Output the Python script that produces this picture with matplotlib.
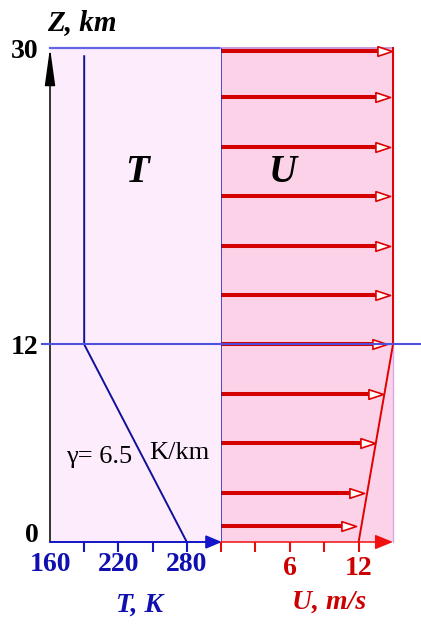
import numpy as np
import matplotlib.pyplot as plt
from matplotlib.lines import Line2D
from matplotlib.path import Path
from matplotlib.transforms import blended_transform_factory

plt.rcParams['font.family'] = ['Liberation Serif', 'DejaVu Serif']

# height levels, km
z_top = 30
z_trop = 12

# temperature profile (K) and height (km)
T_prof = [280, 190, 190]
zT_prof = [0, 12, 29.5]

# wind profile (m/s) and height (km)
U_prof = [12, 15, 15]
zU_prof = [0, 12, 30]

# wind vectors drawn at these heights
z_arrows = [1, 3, 6, 9, 12, 15, 18, 21, 24, 27, 29.8]
u_arrows = [11.8, 12.5, 13.4, 14.1, 14.5, 14.7, 14.7, 14.7, 14.7, 14.7, 14.9]

T_ticks = [160, 190, 220, 250, 280]
T_ticklabels = ['160', '', '220', '', '280']
U_ticks = [0, 3, 6, 9, 12]
U_ticklabels = ['', '', '6', '', '12']
z_ticks = [0, 12, 30]

W, H = 421, 624
fig = plt.figure(figsize=(W / 100, H / 100), dpi=100)
axT = fig.add_axes([50 / W, 82 / H, 171 / W, 494 / H])
axU = fig.add_axes([221 / W, 82 / H, 172 / W, 494 / H])

blue = '#1414c8'
red = '#e00000'

axT.set_xlim(160, 310)
axU.set_xlim(0, 15)
for ax in (axT, axU):
    ax.set_ylim(0, z_top)
    for s in ax.spines.values():
        s.set_visible(False)
axT.set_facecolor('#fcecfc')
axU.set_facecolor('#fcd2e8')

# panel borders
axT.axhline(z_top, color='#6464e6', lw=1.6, clip_on=False)
axU.axhline(z_top, color='#c89be0', lw=1.4, clip_on=False)
axU.axvline(15, color='#d8a8e8', lw=1.0, clip_on=False)
axU.axvline(0, color='#2020c0', lw=1.1, zorder=4)

# tropopause line across the whole figure
trop = blended_transform_factory(fig.transFigure, axT.transData)
fig.add_artist(Line2D([42 / W, 1.0], [z_trop, z_trop], transform=trop,
                      color='#5050dc', lw=1.5, zorder=6))

# temperature and wind profiles
axT.plot(T_prof, zT_prof, color='#10109a', lw=1.4)
axU.plot(U_prof, zU_prof, color=red, lw=1.4, clip_on=False, zorder=5)

# wind arrows: thick shaft with an open head
head = Path([(-1, 0.33), (0, 0), (-1, -0.33), (-1, 0.33)],
            [Path.MOVETO, Path.LINETO, Path.LINETO, Path.CLOSEPOLY])
for z, u in zip(z_arrows, u_arrows):
    axU.plot([0, u - 1.1], [z, z], color='#d40000', lw=2.9,
             solid_capstyle='butt', zorder=3)
    axU.plot(u, z, marker=head, ms=21, mfc='white', mec=red,
             mew=1.2, zorder=4, clip_on=False)

# axes arrows
def axis_arrow(ax, xy, xytext, color, lw, hl, hw):
    ax.annotate('', xy=xy, xytext=xytext, xycoords='axes fraction',
                textcoords='axes fraction',
                arrowprops=dict(arrowstyle='-|>,head_length=%g,head_width=%g' % (hl, hw),
                                color=color, lw=lw, shrinkA=0, shrinkB=0,
                                mutation_scale=1), zorder=7)

axis_arrow(axT, (0, 1), (0, 0), 'black', 1.1, 23, 3.2)
axis_arrow(axT, (1.005, 0), (0, 0), blue, 1.4, 9.5, 4.0)
axis_arrow(axU, (1, 0), (0, 0), '#f01010', 1.1, 11, 4.5)

# ticks
axT.set_xticks(T_ticks)
axT.set_xticklabels(T_ticklabels)
axT.tick_params(axis='x', direction='out', length=7, width=1.5, color=blue,
                labelcolor='#1010b0', labelsize=20, pad=0)
for lab in axT.get_xticklabels():
    lab.set_fontweight('bold')
axT.xaxis.get_major_ticks()[0].tick1line.set_visible(False)

axU.set_xticks(U_ticks)
axU.set_xticklabels(U_ticklabels)
axU.tick_params(axis='x', direction='out', length=7, width=1.5, color='#e01010',
                labelcolor='#cc0000', labelsize=20, pad=3)
for lab in axU.get_xticklabels():
    lab.set_fontweight('bold')

axT.set_yticks(z_ticks)
axT.set_yticklabels([str(v) for v in z_ticks])
axT.tick_params(axis='y', length=0, labelsize=20, pad=8, labelcolor='black')
for lab in axT.get_yticklabels():
    lab.set_fontweight('bold')
axT.get_yticklabels()[0].set_verticalalignment('baseline')
axU.set_yticks([])

# labels
fig.text(47 / W, 1 - 23 / H, 'Z, km', ha='left', va='center', fontsize=21,
         fontweight='bold', fontstyle='italic')
fig.text(137 / W, 1 - 172 / H, 'T', ha='center', va='center', fontsize=28,
         fontweight='bold', fontstyle='italic')
fig.text(283 / W, 1 - 172 / H, 'U', ha='center', va='center', fontsize=28,
         fontweight='bold', fontstyle='italic')
fig.text(139 / W, 1 - 605 / H, 'T, K', ha='center', va='center', fontsize=20,
         fontweight='bold', fontstyle='italic', color='#1010b0')
fig.text(329 / W, 1 - 602 / H, 'U, m/s', ha='center', va='center', fontsize=20,
         fontweight='bold', fontstyle='italic', color='#cc0000')
fig.text(99 / W, 1 - 457 / H, 'γ= 6.5', ha='center', va='center', fontsize=19)
fig.text(179 / W, 1 - 453 / H, 'K/km', ha='center', va='center', fontsize=19)

fig.savefig('out.png', dpi=100)
